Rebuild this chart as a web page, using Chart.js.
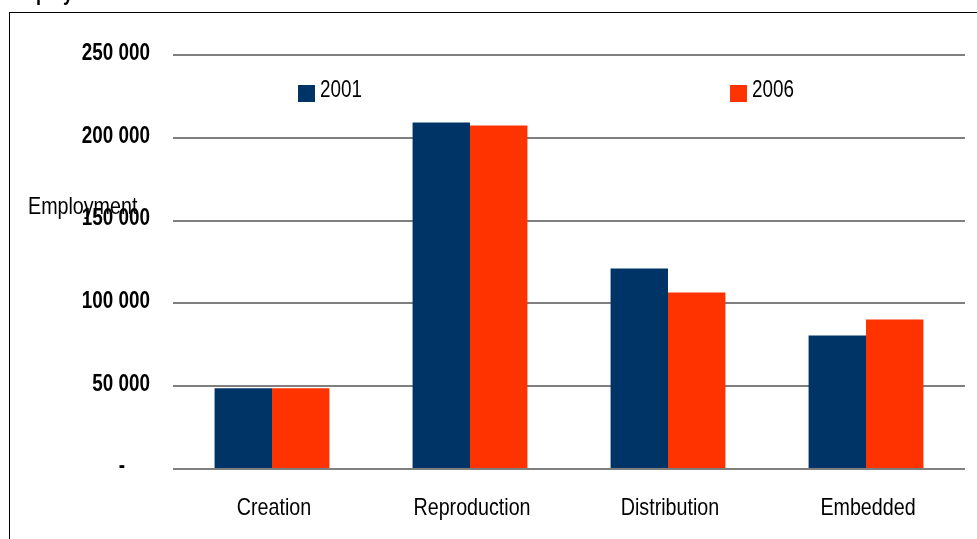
<!DOCTYPE html>
<html>
<head>
<meta charset="utf-8">
<script src="https://cdn.jsdelivr.net/npm/chart.js@4.4.1/dist/chart.umd.min.js"></script>
<style>
  html, body { margin: 0; padding: 0; background: #ffffff; overflow: hidden; }
  canvas { display: block; }
</style>
</head>
<body>
<canvas id="c" width="977" height="539"></canvas>
<script>
// Employment by segment, 2001 vs 2006
const categories = ['Creation', 'Reproduction', 'Distribution', 'Embedded'];
const seriesNames = ['2001', '2006'];
const employment2001 = [48800, 209200, 121100, 80600];
const employment2006 = [48800, 207400, 106600, 90300];
const yTicks = [0, 50000, 100000, 150000, 200000, 250000];
const yAxisTitle = 'Employment';
const chartTitle = 'Employment';

const NAVY = '#003366';
const ORANGE = '#ff3300';
const FACE = "'Liberation Sans', Arial, sans-serif";
const SQUEEZE = 0.82; // horizontal compression for a narrow typeface look

function formatTick(v) {
  if (v === 0) return '-';
  return String(Math.round(v)).replace(/\B(?=(\d{3})+(?!\d))/g, ' ');
}

// Draws condensed text anchored at (x, y)
function narrowText(ctx, text, x, y, font, align, baseline) {
  ctx.save();
  ctx.translate(x, y);
  ctx.scale(SQUEEZE, 1);
  ctx.font = font;
  ctx.fillStyle = '#000000';
  ctx.textAlign = align || 'left';
  ctx.textBaseline = baseline || 'middle';
  ctx.fillText(text, 0, 0);
  ctx.restore();
}

// Frame, clipped heading, tick labels, axis caption and legend keys
const decorations = {
  id: 'decorations',
  beforeDraw(chart) {
    const ctx = chart.ctx;
    ctx.save();
    ctx.fillStyle = '#ffffff';
    ctx.fillRect(0, 0, chart.width, chart.height);
    ctx.strokeStyle = '#000000';
    ctx.lineWidth = 1;
    ctx.strokeRect(9.5, 12.5, 1000, 600);
    ctx.restore();
    narrowText(ctx, chartTitle, 8, 0, 'bold 22px ' + FACE, 'left', 'alphabetic');
  },
  afterDraw(chart) {
    const ctx = chart.ctx;
    const xs = chart.scales.x;
    const ys = chart.scales.y;

    // value axis labels
    ys.ticks.forEach((t) => {
      const py = ys.getPixelForValue(t.value);
      const label = formatTick(t.value);
      if (t.value === 0) {
        narrowText(ctx, label, 122, py - 2, 'bold 23px ' + FACE, 'center');
      } else {
        narrowText(ctx, label, 150, py - 1.5, 'bold 23px ' + FACE, 'right');
      }
    });

    // category labels
    categories.forEach((c, i) => {
      narrowText(ctx, c, xs.getPixelForValue(i) + 2, 508, '24px ' + FACE, 'center');
    });

    // axis caption
    narrowText(ctx, yAxisTitle, 28, 207, '24px ' + FACE, 'left');

    // legend keys
    const keys = [
      { x: 298, y: 85 },
      { x: 730, y: 85 }
    ];
    chart.data.datasets.forEach((ds, i) => {
      const k = keys[i];
      ctx.save();
      ctx.fillStyle = ds.backgroundColor;
      ctx.fillRect(k.x, k.y, 17, 17);
      ctx.restore();
      narrowText(ctx, ds.label, k.x + 22, k.y + 6, '23px ' + FACE, 'left');
    });
  }
};

new Chart(document.getElementById('c'), {
  type: 'bar',
  data: {
    labels: categories,
    datasets: [
      { label: seriesNames[0], data: employment2001, backgroundColor: NAVY },
      { label: seriesNames[1], data: employment2006, backgroundColor: ORANGE }
    ]
  },
  options: {
    responsive: false,
    animation: false,
    devicePixelRatio: 1,
    layout: { padding: { top: 55, right: 12, bottom: 0, left: 0 } },
    plugins: {
      legend: { display: false },
      tooltip: { enabled: false },
      title: { display: false }
    },
    datasets: {
      bar: { barPercentage: 1.0, categoryPercentage: 0.58 }
    },
    scales: {
      x: {
        grid: { display: false },
        border: { display: false },
        ticks: { display: false },
        afterFit(scale) { scale.height = 70; }
      },
      y: {
        min: 0,
        max: 250000,
        border: { display: false },
        grid: {
          color: '#7f7f7f',
          lineWidth: 2,
          drawTicks: false
        },
        afterBuildTicks(scale) {
          scale.ticks = yTicks.map(v => ({ value: v }));
        },
        ticks: { display: false },
        afterFit(scale) { scale.width = 173; }
      }
    }
  },
  plugins: [decorations]
});
</script>
</body>
</html>
